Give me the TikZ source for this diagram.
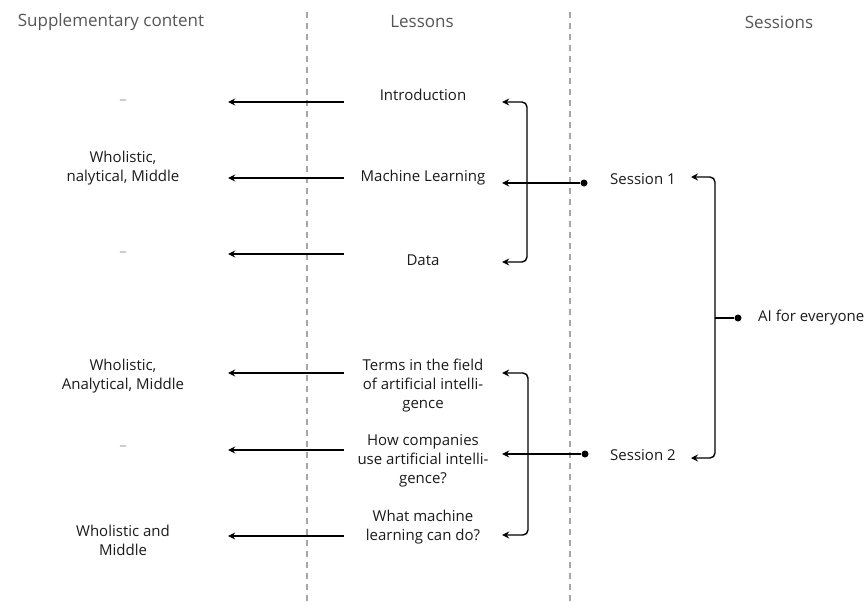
\documentclass[tikz,border=0pt]{standalone}
\usepackage{fontspec}
\setmainfont{Open Sans}
\usetikzlibrary{positioning,arrows.meta}

\definecolor{headgray}{HTML}{555555}
\definecolor{lanegray}{HTML}{A6A6A6}
\definecolor{txt}{HTML}{1A1A1A}

\tikzset{
  every node/.style={font=\fontsize{15}{19}\selectfont, text=txt},
  head/.style={text=headgray, font=\fontsize{17}{20}\selectfont},
  lesson/.style={align=center, minimum width=158pt, inner sep=0pt},
  supp/.style={align=center, minimum width=210pt, inner sep=0pt},
  session/.style={anchor=west, inner sep=0pt},
  none/.style={text=lanegray},
  dot/.style={circle, fill=black, inner sep=0pt, minimum size=7pt},
  arr/.style={-{Stealth[length=7pt,width=7pt,inset=2.5pt]}, line width=1.4pt},
  lane/.style={draw=lanegray, line width=2.2pt, dash pattern=on 6pt off 5pt},
}

\begin{document}
\begin{tikzpicture}[x=1pt,y=-1pt]
	\useasboundingbox (0,0) rectangle (865,602);
	
	% lanes
	\draw[lane] (307,12) -- (307,602);
	\draw[lane] (570,12) -- (570,602);
	
	\node[head] (h_supp) at (111,22) {Supplementary content};
	\node[head] (h_less) at (422,22) {Lessons};
	\node[head] (h_sess) at (779,22) {Sessions};
	
	% lessons
	\node[lesson] (l_1) at (423,95)  {Introduction};
	\node[lesson] (l_2) at (423,178) {Machine Learning};
	\node[lesson] (l_3) at (423,260) {Data};
	\node[lesson] (l_4) at (423,386) {Terms in the field\\of artificial intelli-\\gence};
	\node[lesson] (l_5) at (423,461) {How companies\\use artificial intelli-\\gence?};
	\node[lesson] (l_6) at (423,527) {What machine\\learning can do?};
	
	% supplementary content
	\node[supp,none] (s_1) at (123,102) {--};
	\node[supp] (s_2) at (123,168) {Wholistic,\\nalytical, Middle};
	\node[supp,none] (s_3) at (123,254) {--};
	\node[supp] (s_4) at (123,376) {Wholistic,\\Analytical, Middle};
	\node[supp,none] (s_5) at (123,448) {--};
	\node[supp] (s_6) at (123,540) {Wholistic and\\Middle};
	
	% sessions
	\node[session] (se_1) at (610,179) {Session 1};
	\node[session] (se_2) at (610,455) {Session 2};
	\node[session] (root) at (758,318) {AI for everyone};
	
	\node[dot] (d_1) at (584,183) {};
	\node[dot] (d_2) at (585,454) {};
	\node[dot] (d_0) at (738,318) {};
	
	\coordinate (j_1) at (527,183);
	\coordinate (j_2) at (528,454);
	\coordinate (j_0) at (715,318);
	
	\coordinate (a_1) at (0,102);
	\coordinate (a_2) at (0,178);
	\coordinate (a_3) at (0,254);
	\coordinate (a_4) at (0,373);
	\coordinate (a_5) at (0,450);
	\coordinate (a_6) at (0,536);
	
	\coordinate (t_3) at (0,262);
	\coordinate (t_5) at (0,454);
	\coordinate (t_6) at (0,535);
	\coordinate (t_s1) at (691,177);
	\coordinate (t_s2) at (691,458);
	
	% lessons -> supplementary content
	\draw[arr] (l_1.west |- a_1) -- (s_1.east |- a_1);
	\draw[arr] (l_2.west |- a_2) -- (s_2.east |- a_2);
	\draw[arr] (l_3.west |- a_3) -- (s_3.east |- a_3);
	\draw[arr] (l_4.west |- a_4) -- (s_4.east |- a_4);
	\draw[arr] (l_5.west |- a_5) -- (s_5.east |- a_5);
	\draw[arr] (l_6.west |- a_6) -- (s_6.east |- a_6);
	
	% sessions -> lessons
	\draw[line width=1.4pt] (d_1) -- (j_1);
	\draw[arr] (j_1) -- (l_2.east |- j_1);
	\draw[arr,rounded corners=5pt] (j_1) |- (l_1.east |- a_1);
	\draw[arr,rounded corners=5pt] (j_1) |- (l_3.east |- t_3);
	
	\draw[line width=1.4pt] (d_2) -- (j_2);
	\draw[arr] (j_2) -- (l_5.east |- t_5);
	\draw[arr,rounded corners=5pt] (j_2) |- (l_4.east |- a_4);
	\draw[arr,rounded corners=5pt] (j_2) |- (l_6.east |- t_6);
	
	% root -> sessions
	\draw[line width=1.4pt] (d_0) -- (j_0);
	\draw[arr,rounded corners=5pt] (j_0) |- (t_s1);
	\draw[arr,rounded corners=5pt] (j_0) |- (t_s2);
\end{tikzpicture}
\end{document}
